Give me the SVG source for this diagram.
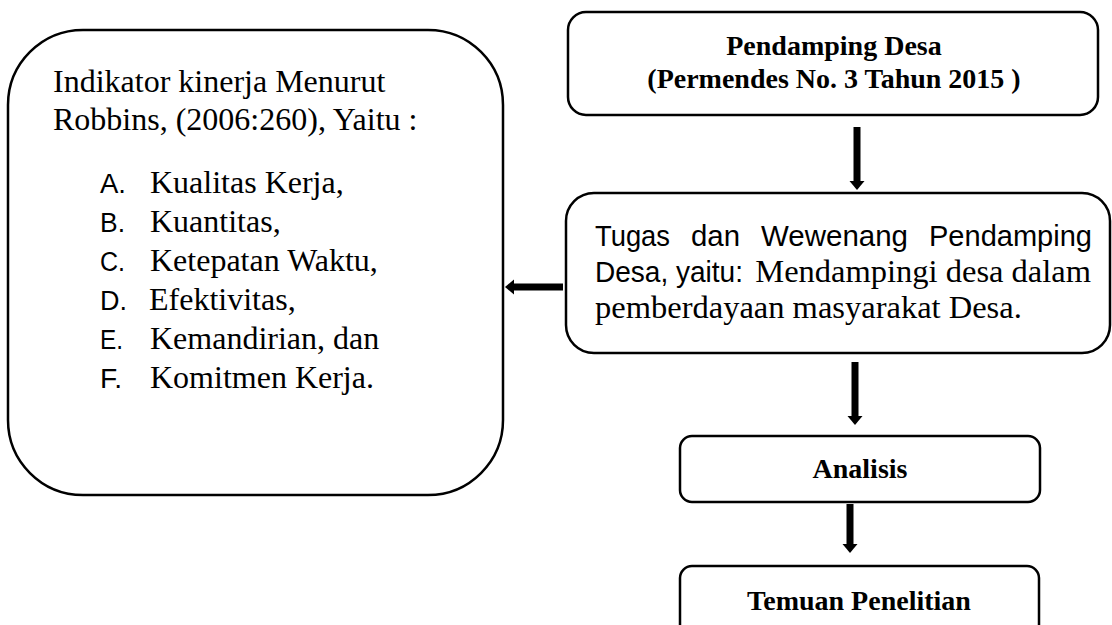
<svg xmlns="http://www.w3.org/2000/svg" width="1112" height="625" viewBox="0 0 1112 625">
<style>
.box{fill:#fff;stroke:#000;stroke-width:2.5}
.serif{font-family:"Liberation Serif","Times New Roman",serif;fill:#000}
.sans{font-family:"Liberation Sans",Arial,sans-serif;fill:#000}
.reg{font-size:32px}
.mid{font-size:32.5px}
.lbl{font-size:27px}
.msans{font-size:29px}
.bold{font-weight:bold;font-size:28px}
.arr{stroke:#000;stroke-width:7;fill:none;marker-end:url(#head)}
</style>
<defs>
<marker id="head" markerUnits="userSpaceOnUse" markerWidth="10" markerHeight="16" refX="0" refY="8" orient="auto">
<path d="M0,0.5 L9,8 L0,15.5 z" fill="#000"/>
</marker>
</defs>
<rect width="1112" height="625" fill="#fff"/>

<g id="connectors">
<line class="arr" x1="857" y1="127" x2="857" y2="181"/>
<line class="arr" x1="563" y1="287" x2="514" y2="287"/>
<line class="arr" x1="855" y1="362" x2="855" y2="416"/>
<line class="arr" x1="850" y1="504" x2="850" y2="544"/>
</g>

<g id="indikator">
<rect class="box" x="8" y="30" width="495" height="465" rx="75" ry="75"/>
<text class="serif reg" x="53" y="92">Indikator kinerja Menurut</text>
<text class="serif reg" x="53" y="130">Robbins, (2006:260), Yaitu :</text>
<text class="sans lbl" x="100" y="193" textLength="26" lengthAdjust="spacingAndGlyphs">A.</text><text class="serif reg" x="150" y="193">Kualitas Kerja,</text>
<text class="sans lbl" x="100" y="232" textLength="25" lengthAdjust="spacingAndGlyphs">B.</text><text class="serif reg" x="150" y="232">Kuantitas,</text>
<text class="sans lbl" x="100" y="271" textLength="25" lengthAdjust="spacingAndGlyphs">C.</text><text class="serif reg" x="150" y="271">Ketepatan Waktu,</text>
<text class="sans lbl" x="100" y="310" textLength="27" lengthAdjust="spacingAndGlyphs">D.</text><text class="serif reg" x="149" y="310">Efektivitas,</text>
<text class="sans lbl" x="100" y="349" textLength="23" lengthAdjust="spacingAndGlyphs">E.</text><text class="serif reg" x="150" y="349">Kemandirian, dan</text>
<text class="sans lbl" x="100" y="388" textLength="22" lengthAdjust="spacingAndGlyphs">F.</text><text class="serif reg" x="150" y="388">Komitmen Kerja.</text>
</g>

<g id="pendamping">
<rect class="box" x="568" y="12" width="530" height="103" rx="18" ry="18"/>
<text class="serif bold" x="834" y="55" text-anchor="middle">Pendamping Desa</text>
<text class="serif bold" x="834" y="88" text-anchor="middle">(Permendes No. 3 Tahun 2015 )</text>
</g>

<g id="tugas">
<rect class="box" x="566" y="193" width="544" height="160" rx="28" ry="28"/>
<text class="sans msans" x="595" y="246" textLength="75" lengthAdjust="spacingAndGlyphs">Tugas</text>
<text class="sans msans" x="691" y="246" textLength="49" lengthAdjust="spacingAndGlyphs">dan</text>
<text class="sans msans" x="761" y="246" textLength="147" lengthAdjust="spacingAndGlyphs">Wewenang</text>
<text class="sans msans" x="929" y="246" textLength="163" lengthAdjust="spacingAndGlyphs">Pendamping</text>
<text class="sans msans" x="595" y="282" textLength="148" lengthAdjust="spacingAndGlyphs">Desa, yaitu:</text>
<text class="serif mid" x="1091" y="282" text-anchor="end">Mendampingi desa dalam</text>
<text class="serif mid" x="595" y="318">pemberdayaan masyarakat Desa.</text>
</g>

<g id="analisis">
<rect class="box" x="680" y="436" width="360" height="66" rx="12" ry="12"/>
<text class="serif bold" x="860" y="478" text-anchor="middle">Analisis</text>
</g>

<g id="temuan">
<rect class="box" x="680" y="566" width="359" height="80" rx="12" ry="12"/>
<text class="serif bold" x="859" y="610" text-anchor="middle">Temuan Penelitian</text>
</g>
</svg>
